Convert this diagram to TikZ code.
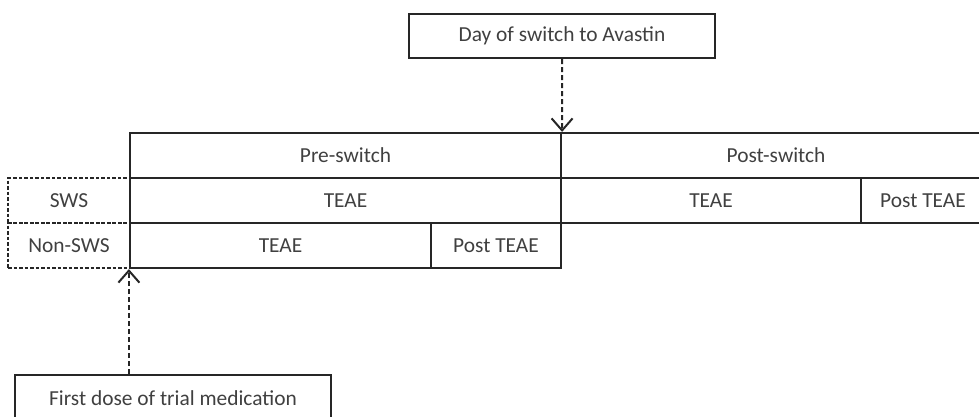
\documentclass[tikz,border=0pt]{standalone}
\usepackage{fontspec}
\setmainfont{Carlito}
\usetikzlibrary{arrows.meta}
\begin{document}
\begin{tikzpicture}[x=1pt,y=-1pt,
  cell/.style={draw=black!85, line width=2.2pt, inner sep=0pt, minimum height=45pt,
    font=\fontsize{21.4}{25}\selectfont, text=black!75},
  lbl/.style={cell, dashed, line width=1.6pt, dash pattern=on 3.5pt off 2pt},
  callout/.style={cell, line width=2pt, minimum height=44pt},
  marker/.style={dashed, line width=2pt, dash pattern=on 5pt off 3pt, black!85,
    -{Straight Barb[length=12pt,width=21pt,line width=2pt]}}]
\useasboundingbox (0,0) rectangle (979,416);
% header row
\node[cell, minimum width=431pt] (pre) at (345.5,155.5) {Pre-switch};
\node[cell, minimum width=430pt] (post) at (776,155.5) {Post-switch};
% SWS row
\node[cell, minimum width=431pt] (swsTeae) at (345.5,200.5) {TEAE};
\node[cell, minimum width=300pt] (swsTeaeB) at (711,200.5) {TEAE};
\node[cell, minimum width=124pt] (swsPost) at (923,200.5) {Post TEAE};
% non-SWS row
\node[cell, minimum width=301pt] (nonTeae) at (280.5,245.5) {TEAE};
\node[cell, minimum width=130pt] (nonPost) at (496,245.5) {Post TEAE};
% group labels
\node[lbl, minimum width=122pt] (sws) at (69,200.5) {SWS};
\node[lbl, minimum width=122pt] (non) at (69,245.5) {Non-SWS};
% event callouts
\node[callout, minimum width=306pt] (day) at (562,36) {Day of switch to Avastin};
\node[callout, minimum width=316pt, minimum height=46pt, anchor=north west] (first) at (14,374) {First dose of trial medication};
\coordinate (firstTop) at (first.north -| nonTeae.south west);
\draw[marker] (day.south) -- (pre.north east);
\draw[marker] (firstTop) -- (nonTeae.south west);
\end{tikzpicture}
\end{document}
